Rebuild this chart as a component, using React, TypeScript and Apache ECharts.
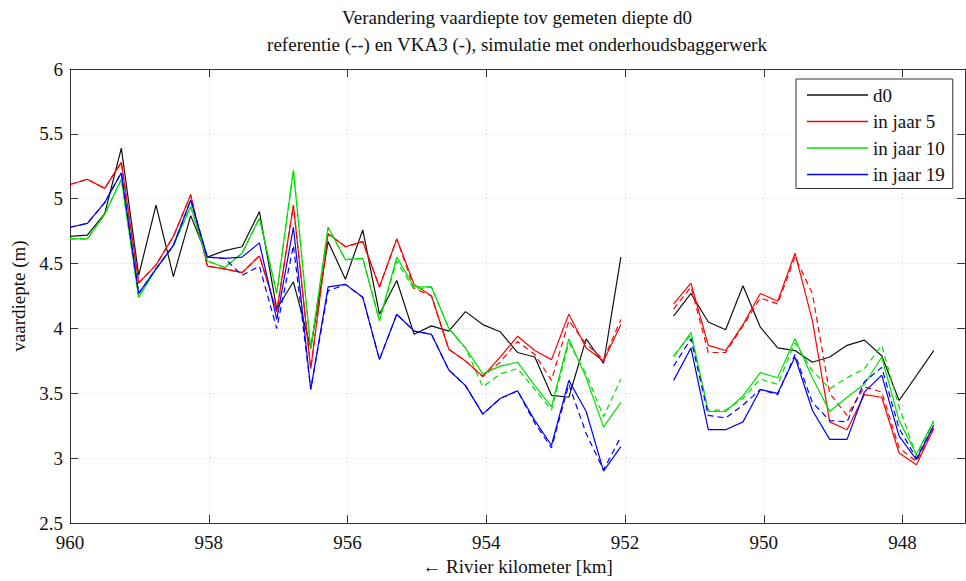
import React, { useEffect, useRef } from "react";
import * as echarts from "echarts";

// River kilometre positions of the two measured stretches
const kmLeft = [
  960, 959.75, 959.5, 959.26, 959.01, 958.76, 958.51, 958.26, 958.02, 957.77, 957.52,
  957.27, 957.02, 956.78, 956.53, 956.28, 956.03, 955.78, 955.54, 955.29, 955.04,
  954.79, 954.54, 954.3, 954.05, 953.8, 953.55, 953.3, 953.06, 952.81, 952.56, 952.31, 952.06,
];
const kmRight = [
  951.3, 951.05, 950.8, 950.55, 950.3, 950.05, 949.8, 949.55, 949.3, 949.05, 948.8,
  948.55, 948.3, 948.05, 947.8, 947.55,
];

// d0 (measured)
const d0Left = [
  4.71, 4.72, 4.885, 5.39, 4.41, 4.95, 4.4, 4.87, 4.55, 4.6, 4.63, 4.9, 4.15, 4.36, 3.85,
  4.67, 4.38, 4.76, 4.11, 4.37, 3.955, 4.02, 3.98, 4.13, 4.03, 3.975, 3.815, 3.78, 3.485,
  3.47, 3.92, 3.73, 4.55,
];
const d0Right = [4.095, 4.27, 4.05, 3.99, 4.33, 4.01, 3.85, 3.83, 3.74, 3.78, 3.87, 3.91, 3.79, 3.445, null, 3.83];

// in jaar 5: VKA3 (solid) and referentie (dashed)
const j5Left = [
  5.11, 5.15, 5.08, 5.28, 4.35, 4.49, 4.71, 5.03, 4.48, 4.46, 4.43, 4.56, 4.13, 4.95, 3.69,
  4.73, 4.63, 4.67, 4.32, 4.69, 4.34, 4.25, 3.84, 3.75, 3.63, 3.78, 3.94, 3.83, 3.76, 4.11,
  3.85, 3.75, 4.03,
];
const j5Right = [4.19, 4.35, 3.87, 3.83, 4.03, 4.27, 4.21, 4.58, 4.06, 3.28, 3.22, 3.49, 3.47, 3.04, 2.95, 3.23];
const j5RefLeft = [
  5.11, 5.15, 5.08, 5.28, 4.35, 4.49, 4.71, 5.03, 4.48, 4.46, 4.43, 4.56, 4.13, 4.95, 3.69,
  4.73, 4.63, 4.67, 4.32, 4.69, 4.31, 4.25, 3.84, 3.75, 3.63, 3.74, 3.9, 3.8, 3.6, 4.06,
  3.88, 3.76, 4.07,
];
const j5RefRight = [4.15, 4.32, 3.815, 3.815, 4.02, 4.235, 4.19, 4.55, 4.27, 3.5, 3.33, 3.55, 3.51, 3.08, 2.975, 3.23];

// in jaar 10
const j10Left = [
  4.69, 4.69, 4.88, 5.15, 4.24, 4.46, 4.64, 4.94, 4.52, 4.47, 4.58, 4.85, 4.27, 5.22, 3.84,
  4.78, 4.53, 4.54, 4.06, 4.55, 4.32, 4.32, 4.0, 3.85, 3.65, 3.71, 3.74, 3.56, 3.395, 3.92,
  3.62, 3.24, 3.43,
];
const j10Right = [3.78, 3.97, 3.36, 3.36, 3.48, 3.66, 3.62, 3.92, 3.62, 3.36, 3.47, 3.57, 3.78, 3.29, 3.03, 3.29];
const j10RefLeft = [
  4.69, 4.69, 4.88, 5.15, 4.24, 4.46, 4.64, 4.94, 4.52, 4.47, 4.58, 4.85, 4.27, 5.22, 3.84,
  4.78, 4.53, 4.54, 4.06, 4.52, 4.3, 4.32, 4.0, 3.85, 3.55, 3.65, 3.69, 3.53, 3.37, 3.89,
  3.65, 3.32, 3.61,
];
const j10RefRight = [3.79, 3.95, 3.37, 3.37, 3.46, 3.61, 3.57, 3.89, 3.675, 3.535, 3.62, 3.69, 3.87, 3.395, 3.02, 3.28];

// in jaar 19
const j19Left = [
  4.78, 4.81, 4.97, 5.2, 4.27, 4.46, 4.64, 4.99, 4.55, 4.54, 4.55, 4.66, 4.07, 4.78, 3.53,
  4.32, 4.34, 4.24, 3.76, 4.11, 3.98, 3.955, 3.68, 3.56, 3.34, 3.46, 3.52, 3.29, 3.1, 3.6,
  3.36, 2.9, 3.09,
];
const j19Right = [3.6, 3.85, 3.22, 3.22, 3.28, 3.53, 3.5, 3.78, 3.37, 3.145, 3.145, 3.51, 3.64, 3.17, 2.99, 3.255];
const j19RefLeft = [
  4.78, 4.81, 4.97, 5.2, 4.27, 4.46, 4.64, 4.99, 4.55, 4.54, 4.41, 4.48, 4.0, 4.64, 3.53,
  4.29, 4.34, 4.24, 3.76, 4.11, 3.98, 3.955, 3.68, 3.56, 3.34, 3.46, 3.52, 3.27, 3.08, 3.57,
  3.19, 2.91, 3.165,
];
const j19RefRight = [3.71, 3.92, 3.33, 3.31, 3.41, 3.53, 3.49, 3.8, 3.43, 3.29, 3.28, 3.59, 3.7, 3.23, 3.0, 3.25];

const xTicks = [960, 958, 956, 954, 952, 950, 948];
const legendNames = ["d0", "in jaar 5", "in jaar 10", "in jaar 19"];

const FONT = "'Liberation Serif', 'DejaVu Serif', serif";

function build(left: (number | null)[], right: (number | null)[]) {
  const d: any[] = [];
  left.forEach((v, i) => {
    if (v != null) d.push([kmLeft[i], v]);
  });
  d.push([951.65, "-"]);
  right.forEach((v, j) => {
    if (v != null) d.push([kmRight[j], v]);
  });
  return d;
}

function line(name: string, color: string, data: any[], dashed: boolean) {
  return {
    name,
    type: "line",
    data,
    symbol: "none",
    connectNulls: false,
    lineStyle: { color, width: 1.2, type: dashed ? [6, 4] : "solid" },
    itemStyle: { color },
    emphasis: { disabled: true },
  };
}

export default function App() {
  const ref = useRef<HTMLDivElement>(null);
  useEffect(() => {
    if (!ref.current) return;
    const chart = echarts.init(ref.current, undefined, { renderer: "svg" });
    const axisColor = "#333";
    const gridLine = { show: true, lineStyle: { color: "#cfcfcf", type: [1, 3], width: 1 } };
    chart.setOption({
      animation: false,
      backgroundColor: "#fff",
      title: {
        text: "Verandering vaardiepte tov gemeten diepte d0\nreferentie (--) en VKA3 (-), simulatie met onderhoudsbaggerwerk",
        left: 517,
        top: 4,
        padding: 0,
        textAlign: "center",
        textStyle: { fontFamily: FONT, fontSize: 19, fontWeight: "normal", color: "#111", lineHeight: 27 },
      },
      legend: {
        data: legendNames,
        orient: "vertical",
        left: 796,
        top: 79,
        icon: "rect",
        itemWidth: 61,
        itemHeight: 1.3,
        itemGap: 6.5,
        padding: [6, 8, 4, 11],
        borderColor: "#333",
        borderWidth: 1,
        backgroundColor: "#fff",
        textStyle: { fontFamily: FONT, fontSize: 19, color: "#111", lineHeight: 20 },
      },
      grid: { left: 70, right: 1, top: 69, bottom: 54, containLabel: false },
      xAxis: [
        {
          type: "value",
          inverse: true,
          min: 947.1,
          max: 960,
          name: "\u2190 Rivier kilometer [km]",
          nameLocation: "middle",
          nameGap: 33,
          nameTextStyle: { fontFamily: FONT, fontSize: 19, color: "#111" },
          axisLine: { show: true, onZero: false, lineStyle: { color: axisColor, width: 1 } },
          axisTick: { show: true, inside: true, length: 8, customValues: xTicks, lineStyle: { color: axisColor } },
          axisLabel: { customValues: xTicks, margin: 10, fontFamily: FONT, fontSize: 19, color: "#111" },
          splitLine: { ...gridLine, customValues: xTicks },
        },
        {
          type: "value",
          position: "top",
          inverse: true,
          min: 947.1,
          max: 960,
          axisLine: { show: true, onZero: false, lineStyle: { color: axisColor, width: 1 } },
          axisTick: { show: true, inside: true, length: 8, customValues: xTicks, lineStyle: { color: axisColor } },
          axisLabel: { show: false, customValues: xTicks },
          splitLine: { show: false },
        },
      ],
      yAxis: [
        {
          type: "value",
          min: 2.5,
          max: 6,
          interval: 0.5,
          name: "vaardiepte (m)",
          nameLocation: "middle",
          nameRotate: 90,
          nameGap: 39,
          nameTextStyle: { fontFamily: FONT, fontSize: 19, color: "#111" },
          axisLine: { show: true, onZero: false, lineStyle: { color: axisColor, width: 1 } },
          axisTick: { show: true, inside: true, length: 8, lineStyle: { color: axisColor } },
          axisLabel: { margin: 7, fontFamily: FONT, fontSize: 19, color: "#111" },
          splitLine: gridLine,
        },
        {
          type: "value",
          position: "right",
          min: 2.5,
          max: 6,
          interval: 0.5,
          axisLine: { show: true, onZero: false, lineStyle: { color: axisColor, width: 1 } },
          axisTick: { show: true, inside: true, length: 8, lineStyle: { color: axisColor } },
          axisLabel: { show: false },
          splitLine: { show: false },
        },
      ],
      series: [
        line("d0", "#111111", build(d0Left, d0Right), false),
        line("ref jaar 5", "#ff0000", build(j5RefLeft, j5RefRight), true),
        line("in jaar 5", "#ff0000", build(j5Left, j5Right), false),
        line("ref jaar 10", "#00e000", build(j10RefLeft, j10RefRight), true),
        line("in jaar 10", "#00e000", build(j10Left, j10Right), false),
        line("ref jaar 19", "#0000ff", build(j19RefLeft, j19RefRight), true),
        line("in jaar 19", "#0000ff", build(j19Left, j19Right), false),
      ],
    });
    return () => chart.dispose();
  }, []);
  return <div ref={ref} style={{ width: 966, height: 581, position: "absolute", left: 0, top: 0 }} />;
}
